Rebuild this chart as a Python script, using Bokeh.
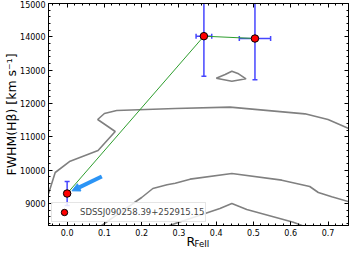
import numpy as np
from bokeh.plotting import figure
from bokeh.models import (ColumnDataSource, Whisker, TeeHead, Arrow, NormalHead, Title,
                          LinearAxis, FixedTicker, Range1d, Legend, LegendItem,
                          CustomLabelingPolicy)
from bokeh.embed import file_html
from bokeh.resources import INLINE

# ---- data ----
rfe = [0.0, 0.367, 0.504]
fwhm = [9300, 14020, 13950]
fwhm_err = [360, 1200, 1240]
rfe_err = [0.0, 0.021, 0.042]
obj_name = "SDSSJ090258.39+252915.15"

arrow_x = [0.093, 0.013]
arrow_y = [9810, 9380]

contA_x = [-0.05, -0.032, 0.008, 0.083, 0.129, 0.082, 0.10, 0.133, 0.29, 0.437, 0.638, 0.70, 0.76]
contA_y = [9290, 9930, 10270, 10590, 11160, 11520, 11700, 11790, 11850, 11890, 11690, 11520, 11230]
contB_x = [0.09, 0.2, 0.23, 0.268, 0.29, 0.33, 0.442, 0.576, 0.651, 0.674, 0.71, 0.76]
contB_y = [8320, 9180, 9450, 9560, 9610, 9730, 9900, 9700, 9510, 9330, 9200, 9040]
contC_x = [0.269, 0.29, 0.41, 0.442, 0.482, 0.607, 0.635]
contC_y = [8320, 8400, 8850, 9000, 8820, 8440, 8320]
contD_x = [0.40, 0.424, 0.442, 0.46, 0.48, 0.442, 0.40]
contD_y = [12760, 12870, 12970, 12890, 12740, 12670, 12760]

x_ticks = [0.0, 0.1, 0.2, 0.3, 0.4, 0.5, 0.6, 0.7]
x_tick_labels = ["0.0", "0.1", "0.2", "0.3", "0.4", "0.5", "0.6", "0.7"]
y_ticks = [9000, 10000, 11000, 12000, 13000, 14000, 15000]
y_tick_labels = ["9000", "10000", "11000", "12000", "13000", "14000", "15000"]
x_minor = [round(v, 3) for v in np.arange(-0.04, 0.76, 0.02)]
y_minor = [int(v) for v in np.arange(8400, 15001, 200)]

x_lim = (-0.05, 0.755)
y_lim = (8340, 15000)

FONT = "DejaVu Sans"

p = figure(width=349, height=253, output_backend="svg", toolbar_location=None,
           x_range=Range1d(*x_lim), y_range=Range1d(*y_lim),
           min_border_left=48, min_border_right=1, min_border_top=3, min_border_bottom=28)
p.grid.visible = False
p.outline_line_color = "black"
p.outline_line_width = 1
p.background_fill_color = "white"

hide_labels = CustomLabelingPolicy(code="for (const i of indices) indices.unset(i)")

def style_axis(ax, ticks, minor, labels, show_labels=True):
    ax.ticker = FixedTicker(ticks=ticks, minor_ticks=minor)
    ax.major_tick_in = 4
    ax.major_tick_out = 0
    ax.minor_tick_in = 2
    ax.minor_tick_out = 0
    ax.axis_line_color = "black"
    ax.major_tick_line_color = "black"
    ax.minor_tick_line_color = "black"
    ax.major_label_overrides = {t: l for t, l in zip(ticks, labels)}
    ax.major_label_text_font = FONT
    ax.major_label_text_font_size = "8px"
    ax.major_label_text_color = "black"
    ax.major_label_standoff = 3
    if not show_labels:
        ax.major_label_policy = hide_labels
        ax.major_label_text_font_size = "0px"
        ax.major_label_standoff = 0

style_axis(p.xaxis[0], x_ticks, x_minor, x_tick_labels)
style_axis(p.yaxis[0], y_ticks, y_minor, y_tick_labels)
top_ax = LinearAxis()
style_axis(top_ax, x_ticks, x_minor, x_tick_labels, show_labels=False)
p.add_layout(top_ax, "above")
right_ax = LinearAxis()
style_axis(right_ax, y_ticks, y_minor, y_tick_labels, show_labels=False)
p.add_layout(right_ax, "right")

p.yaxis[0].axis_label = "FWHM(Hβ) [km s⁻¹]"
p.yaxis[0].axis_label_text_font = FONT
p.yaxis[0].axis_label_text_font_size = "12.5px"
p.yaxis[0].axis_label_text_font_style = "normal"
p.yaxis[0].axis_label_text_color = "black"
p.yaxis[0].axis_label_standoff = -2

# x label: R with subscript FeII
p.add_layout(Title(text="R", align="left", offset=138, standoff=-13.5, vertical_align="bottom",
                   text_font=FONT, text_font_size="12.5px", text_font_style="normal",
                   text_color="black"), "below")
p.add_layout(Title(text="FeII", align="left", offset=146, standoff=-10.6, vertical_align="bottom",
                   text_font=FONT, text_font_size="8.5px", text_font_style="normal",
                   text_color="black"), "below")

# contours
for cx, cy in [(contA_x, contA_y), (contB_x, contB_y), (contC_x, contC_y), (contD_x, contD_y)]:
    p.line(cx, cy, line_color="#808080", line_width=1.6)

# connecting line
p.line(rfe, fwhm, line_color="#2e9e2e", line_width=1)

# error bars
src = ColumnDataSource(data=dict(
    x=rfe, y=fwhm,
    ylo=[v - e for v, e in zip(fwhm, fwhm_err)],
    yhi=[v + e for v, e in zip(fwhm, fwhm_err)],
))
ecol = "#4646ff"
p.add_layout(Whisker(source=src, base="x", lower="ylo", upper="yhi", dimension="height",
                     line_color=ecol, line_width=1.5, level="underlay",
                     upper_head=TeeHead(size=5, line_color=ecol, line_width=1.5),
                     lower_head=TeeHead(size=5, line_color=ecol, line_width=1.5)))
xi = [i for i, e in enumerate(rfe_err) if e > 0]
srcx = ColumnDataSource(data=dict(
    y=[fwhm[i] for i in xi],
    xlo=[rfe[i] - rfe_err[i] for i in xi],
    xhi=[rfe[i] + rfe_err[i] for i in xi],
))
p.add_layout(Whisker(source=srcx, base="y", lower="xlo", upper="xhi", dimension="width",
                     line_color=ecol, line_width=1.5, level="underlay",
                     upper_head=TeeHead(size=5, line_color=ecol, line_width=1.5),
                     lower_head=TeeHead(size=5, line_color=ecol, line_width=1.5)))

# arrow
acol = "#2b94f5"
p.add_layout(Arrow(x_start=arrow_x[0], y_start=arrow_y[0], x_end=arrow_x[1], y_end=arrow_y[1],
                   line_color=acol, line_width=4,
                   end=NormalHead(size=8, fill_color=acol, line_color=acol, line_width=1)))

# points
r_pts = p.scatter(rfe, fwhm, marker="circle", size=7.5, fill_color="red",
                  line_color="black", line_width=1)

legend = Legend(items=[LegendItem(label=obj_name, renderers=[r_pts])], location=(3, 3),
                label_text_font=FONT, label_text_font_size="8.5px", padding=1, spacing=0,
                margin=0, glyph_width=22, glyph_height=16, label_height=9, label_standoff=5,
                border_line_color="#cccccc", border_line_width=1, background_fill_alpha=0.85)
p.add_layout(legend)

open("out.html", "w").write(file_html(p, INLINE))
